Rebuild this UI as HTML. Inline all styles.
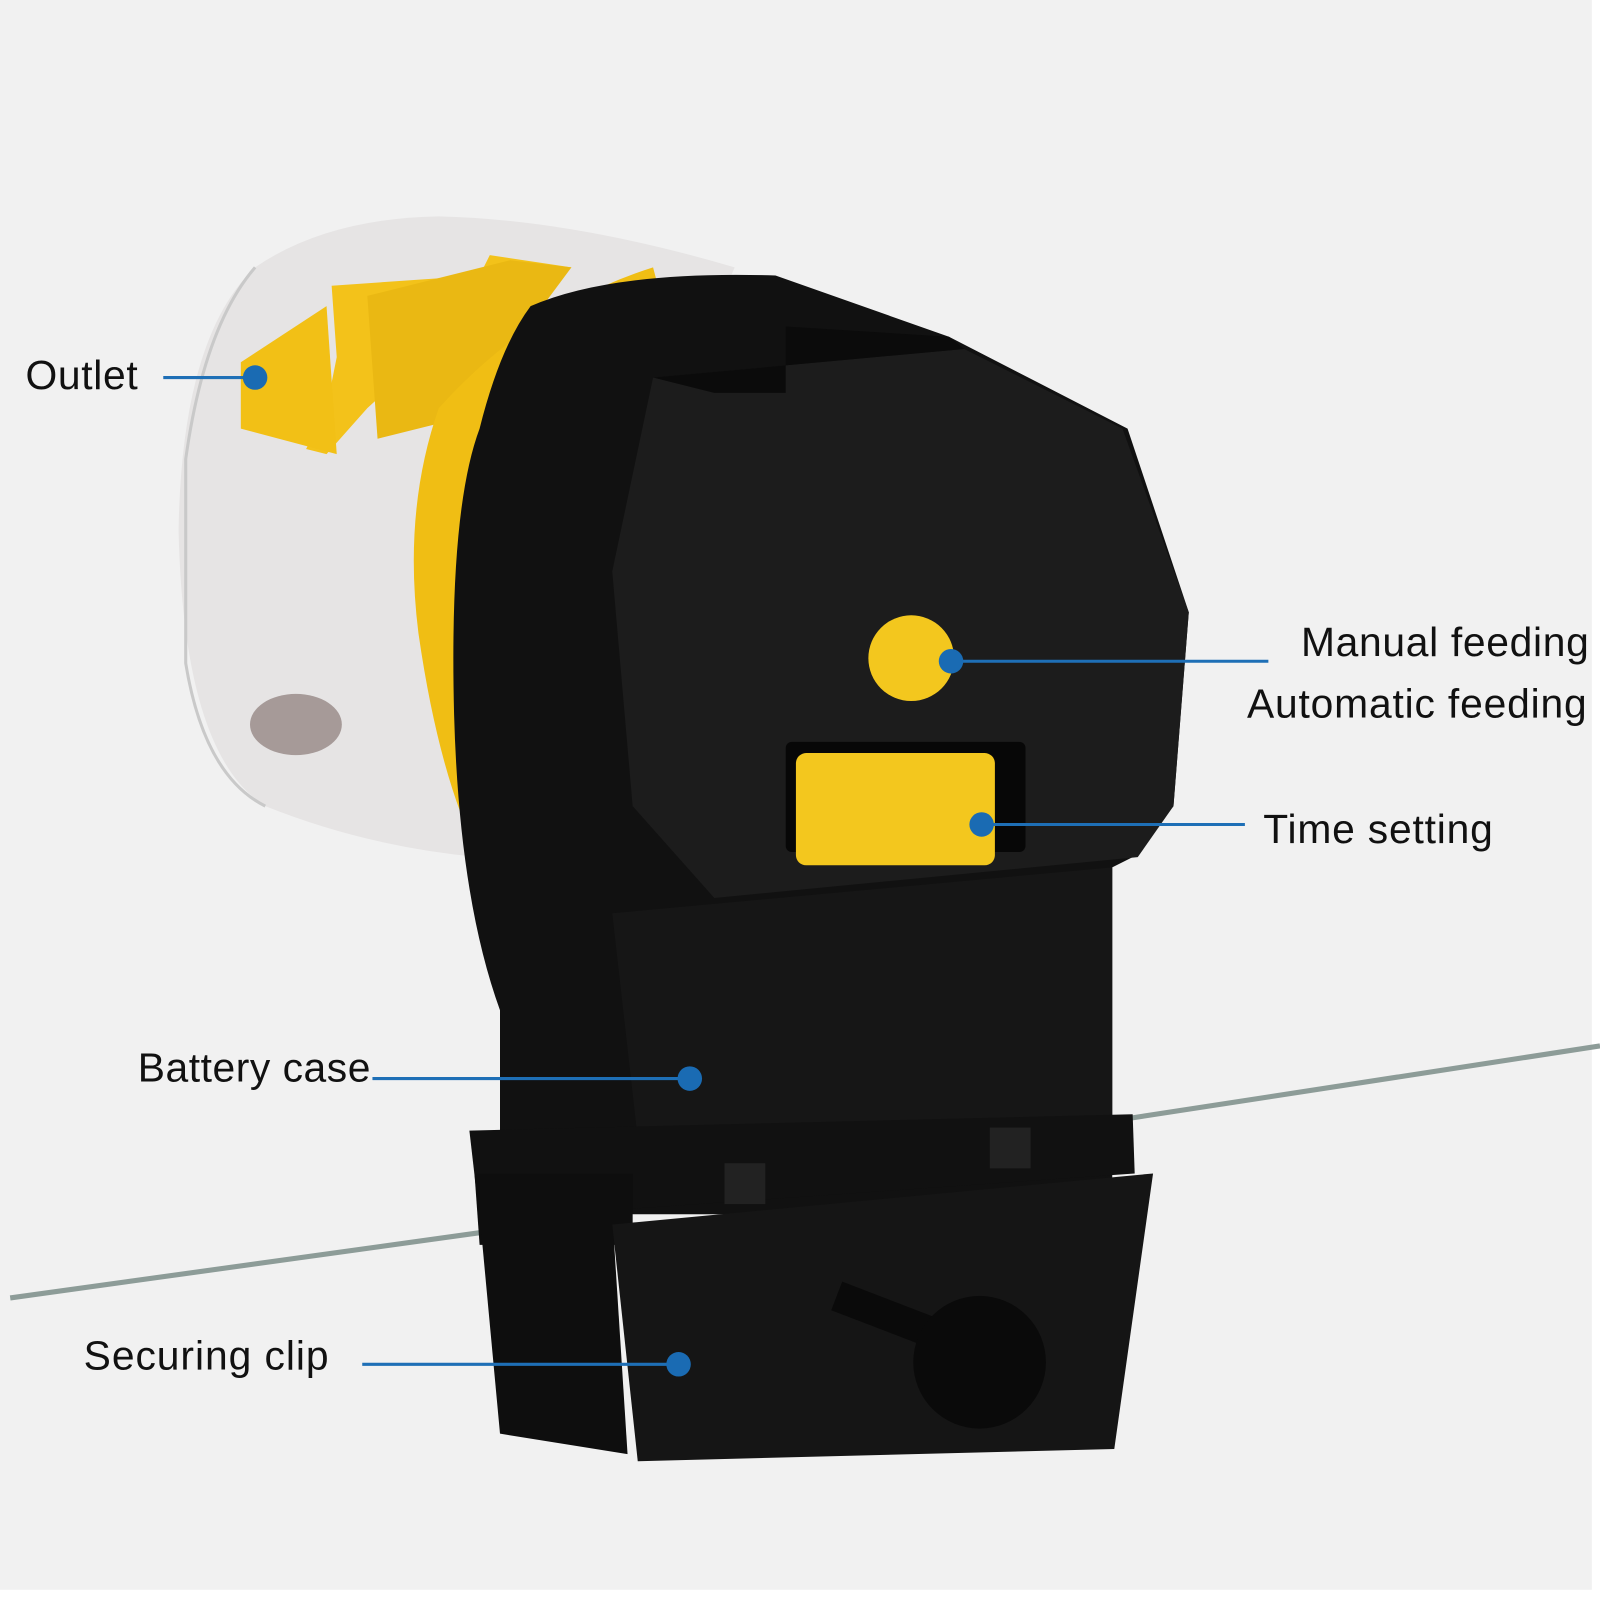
<!DOCTYPE html>
<html><head><style>
html,body{margin:0;padding:0;background:#fff;}
svg{display:block}
text{font-family:"Liberation Sans",Arial,sans-serif;fill:#111;}
</style></head><body>
<svg width="1600" height="1600" viewBox="0 0 1568 1568" xmlns="http://www.w3.org/2000/svg">
<rect x="0" y="0" width="1560" height="1558" fill="#f1f1f1"/>
<!-- glass lines -->
<line x1="10" y1="1272" x2="600" y2="1190" stroke="#8d9c98" stroke-width="5"/>
<line x1="1100" y1="1097" x2="1568" y2="1025" stroke="#8d9c98" stroke-width="5"/>
<!-- canister -->
<path d="M430,212 Q560,215 720,262 L470,840 Q360,830 260,790 Q180,740 175,520 Q178,330 250,262 Q320,214 430,212 Z" fill="#e6e4e4"/>
<path d="M250,262 Q200,320 182,450 L182,650 Q200,760 260,790" fill="none" stroke="#c9c9c9" stroke-width="3"/>
<polygon points="325,280 470,270 480,250 560,262 500,300 430,300 420,345 360,400 320,445 300,440 320,400 330,350" fill="#f3c21a"/>
<polygon points="236,355 320,300 330,445 236,420" fill="#f2c016"/>
<polygon points="360,290 500,255 560,262 450,410 370,430" fill="#eab813"/>
<ellipse cx="290" cy="710" rx="45" ry="30" fill="#8a7b78" opacity=".7"/>
<!-- yellow collar -->
<path d="M640,262 Q520,300 430,400 Q395,500 410,620 Q430,760 470,840 L520,840 Q470,700 480,500 Q500,360 650,300 Z" fill="#f0be14"/>
<!-- black body back -->
<path d="M520,300 Q600,265 760,270 L930,330 L1105,420 L1165,600 L1150,790 L1110,840 L1090,850 L1090,1190 L490,1190 L490,990 Q450,880 445,700 Q440,500 470,420 Q490,340 520,300 Z" fill="#111"/>
<!-- octagon face -->
<polygon points="640,370 945,342 1100,420 1165,600 1150,790 1115,840 700,880 620,790 600,560" fill="#1c1c1c"/>
<polygon points="700,385 770,385 770,320 930,330 945,342 640,370" fill="#0b0b0b"/>
<!-- lower panel -->
<polygon points="600,895 1090,850 1090,1120 630,1160" fill="#161616"/>
<!-- buttons -->
<circle cx="893" cy="645" r="42" fill="#f3c71e"/>
<rect x="770" y="727" width="235" height="108" rx="6" fill="#070707"/>
<rect x="780" y="738" width="195" height="110" rx="10" fill="#f3c71e"/>
<!-- clip -->
<polygon points="460,1108 1110,1092 1112,1150 470,1195" fill="#111"/>
<polygon points="465,1150 620,1150 620,1220 470,1220" fill="#0e0e0e"/>
<polygon points="470,1190 600,1190 615,1425 490,1405" fill="#0e0e0e"/>
<polygon points="600,1200 1130,1150 1092,1420 625,1432" fill="#151515"/>
<rect x="710" y="1140" width="40" height="40" fill="#222"/>
<rect x="970" y="1105" width="40" height="40" fill="#222"/>
<line x1="820" y1="1270" x2="950" y2="1320" stroke="#0a0a0a" stroke-width="30"/>
<circle cx="960" cy="1335" r="65" fill="#0a0a0a"/>
<!-- labels -->
<g stroke="#1e6fb6" stroke-width="3">
<line x1="160" y1="370" x2="250" y2="370"/>
<line x1="932" y1="648" x2="1243" y2="648"/>
<line x1="962" y1="808" x2="1220" y2="808"/>
<line x1="365" y1="1057" x2="676" y2="1057"/>
<line x1="355" y1="1337" x2="665" y2="1337"/>
</g>
<g fill="#1a6bb3">
<circle cx="250" cy="370" r="12"/>
<circle cx="932" cy="648" r="12"/>
<circle cx="962" cy="808" r="12"/>
<circle cx="676" cy="1057" r="12"/>
<circle cx="665" cy="1337" r="12"/>
</g>
<g font-size="40">
<text x="25" y="381" textLength="110">Outlet</text>
<text x="1275" y="643" textLength="282">Manual feeding</text>
<text x="1222" y="703" textLength="333">Automatic feeding</text>
<text x="1238" y="826" textLength="225">Time setting</text>
<text x="135" y="1060" textLength="228">Battery case</text>
<text x="82" y="1342" textLength="240">Securing clip</text>
</g>
</svg>
</body></html>
